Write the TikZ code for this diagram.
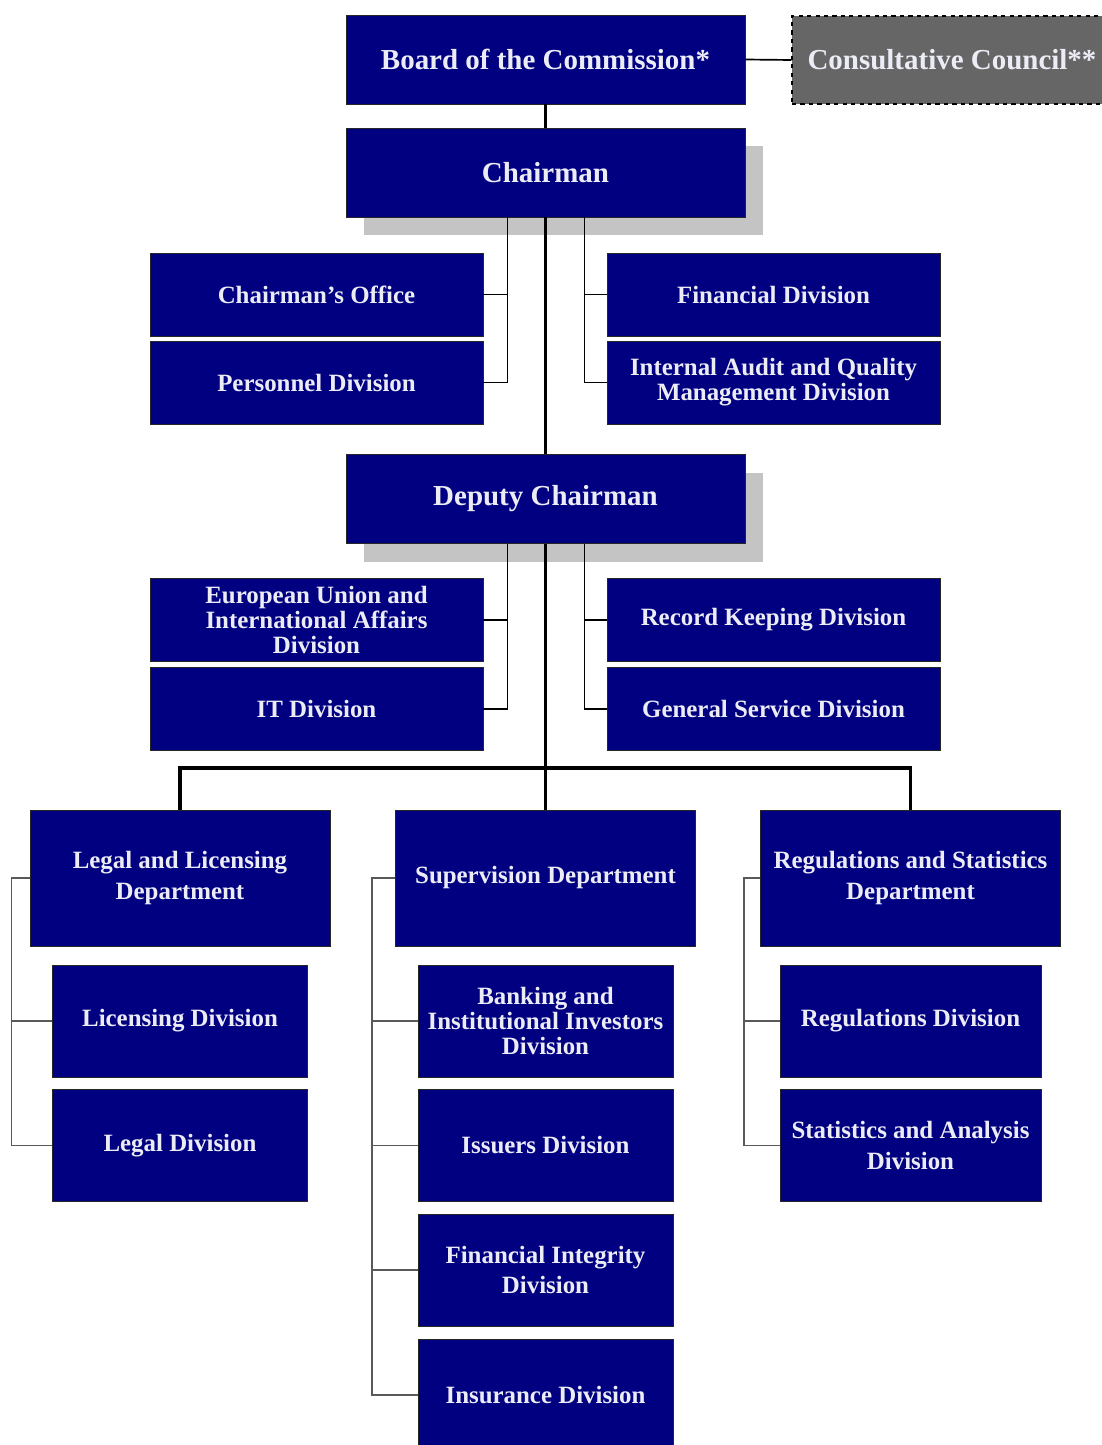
\documentclass[tikz,border=0pt]{standalone}
\usepackage{fontspec}
\setmainfont{Liberation Serif}
\usetikzlibrary{shadows}
\definecolor{navybox}{RGB}{0,0,128}
\definecolor{councilgray}{RGB}{102,102,102}
\definecolor{boxtext}{RGB}{236,236,246}
\newlength{\upx}
\setlength{\upx}{0.025cm}

\begin{document}
\begin{tikzpicture}[x=0.025cm,y=-0.025cm,
orgbox/.style={rectangle,draw=black!85,line width=0.6pt,fill=navybox,text=boxtext,
  font=\bfseries\fontsize{17.7}{21.5}\selectfont,align=center,inner sep=0pt},
headbox/.style={orgbox,minimum width=399\upx,minimum height=89\upx,
  font=\bfseries\fontsize{20.6}{24}\selectfont},
shadowed/.style={drop shadow={shadow xshift=0.45cm,shadow yshift=-0.45cm,fill=black!23,opacity=1}},
sidebox/.style={orgbox,minimum width=333\upx,minimum height=83\upx},
deptbox/.style={orgbox,minimum width=300\upx,minimum height=136\upx},
subbox/.style={orgbox,minimum width=255\upx,minimum height=112\upx},
tightlines/.style={font=\bfseries\fontsize{17.7}{17.8}\selectfont},
spine/.style={line width=2.2pt},
branch/.style={line width=1.2pt},
bracket/.style={line width=1pt,draw=black!65}]
\useasboundingbox[fill=white] (0,0) rectangle (1102,1445);

\node[headbox] (board) at (545.5,59.5) {Board of the Commission*};
\node[headbox,fill=councilgray,draw=black,dashed,line width=0.9pt,minimum width=320\upx,minimum height=88\upx] (council) at (952,60) {Consultative Council**};
\node[headbox,shadowed] (chair) at (545.5,172.5) {Chairman};
\node[sidebox] (coffice) at (316.5,294.5) {Chairman's Office};
\node[sidebox] (personnel) at (316.5,382.5) {Personnel Division};
\node[sidebox] (financial) at (773.5,294.5) {Financial Division};
\node[sidebox,tightlines] (audit) at (773.5,382.5) {Internal Audit and Quality\\Management Division};
\node[headbox,shadowed] (deputy) at (545.5,499) {Deputy Chairman};
\node[sidebox,tightlines] (eu) at (316.5,620) {European Union and\\International Affairs\\Division};
\node[sidebox] (it) at (316.5,709) {IT Division};
\node[sidebox] (record) at (773.5,620) {Record Keeping Division};
\node[sidebox] (general) at (773.5,709) {General Service Division};
\coordinate (bar) at (545.5,768);

\node[deptbox] (legaldept) at (180,878) {Legal and Licensing\\Department};
\node[deptbox] (supdept) at (545.5,878) {Supervision Department};
\node[deptbox] (regdept) at (910.5,878) {Regulations and Statistics\\Department};
\node[subbox] (licensing) at (180,1021) {Licensing Division};
\node[subbox] (legaldiv) at (180,1145.5) {Legal Division};
\node[subbox,tightlines] (banking) at (545.5,1021) {Banking and\\Institutional Investors\\Division};
\node[subbox] (issuers) at (545.5,1145.5) {Issuers Division};
\node[subbox] (finint) at (545.5,1270) {Financial Integrity\\Division};
\node[subbox] (insurance) at (545.5,1395) {Insurance Division};
\node[subbox,minimum width=261\upx] (regdiv) at (910.5,1021) {Regulations Division};
\node[subbox,minimum width=261\upx] (statdiv) at (910.5,1145.5) {Statistics and Analysis\\Division};

\draw[branch] (board.east) -- (council.west);
\draw[spine] (board.south) -- (chair.north);
\draw[spine] (chair.south) -- (deputy.north);
\draw[spine] (deputy.south) -- (bar);
\draw[spine] (legaldept.north) |- (bar) -| (regdept.north);
\draw[spine] (bar) -- (supdept.north);
\foreach \n in {coffice,personnel} \draw[branch] (chair.south) ++(-38,0) |- (\n.east);
\foreach \n in {financial,audit} \draw[branch] (chair.south) ++(39,0) |- (\n.west);
\foreach \n in {eu,it} \draw[branch] (deputy.south) ++(-38,0) |- (\n.east);
\foreach \n in {record,general} \draw[branch] (deputy.south) ++(39,0) |- (\n.west);
\foreach \n in {licensing,legaldiv} \draw[bracket] (legaldept.west) -- ++(-18,0) |- (\n.west);
\foreach \n in {banking,issuers,finint,insurance} \draw[bracket] (supdept.west) -- ++(-23,0) |- (\n.west);
\foreach \n in {regdiv,statdiv} \draw[bracket] (regdept.west) -- ++(-16,0) |- (\n.west);
\end{tikzpicture}
\end{document}
